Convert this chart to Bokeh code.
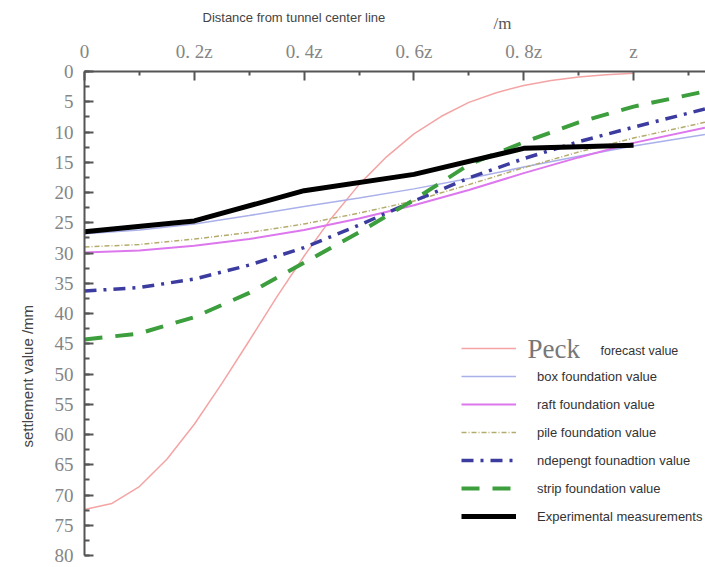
import math
from bokeh.plotting import figure
from bokeh.models import (Range1d, FixedTicker, SingleIntervalTicker, Legend,
                          LegendItem, Label, Title)
from bokeh.embed import file_html
from bokeh.resources import INLINE

# ---------------- data (distance in units of z, settlement in mm) ----------------
x_ticks = [0, 0.2, 0.4, 0.6, 0.8, 1.0]
x_tick_labels = ["0", "0. 2z", "0. 4z", "0. 6z", "0. 8z", "z"]
x_minor_ticks = [0.1, 0.3, 0.5, 0.7, 0.9, 1.1]

peck_dist = [0, 0.05, 0.1, 0.15, 0.2, 0.25, 0.3, 0.35, 0.4, 0.45, 0.5,
             0.55, 0.6, 0.65, 0.7, 0.75, 0.8, 0.85, 0.9, 0.95, 1.0]
peck_forecast = [72.4, 71.4, 68.6, 64.1, 58.3, 51.6, 44.5, 37.3, 30.5, 24.2, 18.7,
                 14.1, 10.3, 7.4, 5.1, 3.5, 2.3, 1.5, 0.9, 0.55, 0.3]

model_dist = [0, 0.1, 0.2, 0.3, 0.4, 0.5, 0.6, 0.7, 0.8, 0.9, 1.0, 1.13]
box_found = [26.8, 26.2, 25.2, 23.8, 22.3, 20.9, 19.4, 17.7, 15.8, 14.0, 12.3, 10.4]
raft_found = [29.9, 29.6, 28.8, 27.7, 26.2, 24.3, 22.1, 19.6, 16.8, 14.2, 11.8, 9.3]
pile_found = [29.0, 28.6, 27.7, 26.6, 25.2, 23.4, 21.4, 18.7, 15.9, 13.3, 11.0, 8.4]
indep_found = [36.3, 35.7, 34.3, 32.0, 29.1, 25.4, 21.4, 17.6, 14.4, 11.6, 9.2, 6.2]
strip_found = [44.3, 43.3, 40.6, 36.6, 31.6, 26.6, 21.2, 15.4, 11.7, 8.4, 5.8, 3.3]

exp_dist = [0, 0.2, 0.4, 0.6, 0.8, 1.0]
exp_measured = [26.5, 24.7, 19.7, 17.0, 12.7, 12.2]

legend_labels = ["", "box foundation value", "raft foundation value",
                 "pile foundation value", "ndepengt founadtion value",
                 "strip foundation value", "Experimental measurements"]

# ---------------- figure ----------------
p = figure(width=705, height=567, output_backend="svg", toolbar_location=None,
           x_range=Range1d(0, 1.131), y_range=Range1d(80, 0),
           x_axis_location="above", title=None,
           min_border_left=84, min_border_top=71, min_border_right=0,
           min_border_bottom=12)
p.outline_line_color = None
p.grid.visible = False
p.background_fill_color = "white"

xa = p.xaxis[0]
xa.ticker = FixedTicker(ticks=x_ticks, minor_ticks=x_minor_ticks)
xa.major_label_overrides = dict(zip(x_ticks, x_tick_labels))
ya = p.yaxis[0]
ya.ticker = SingleIntervalTicker(interval=5, num_minor_ticks=2)

for ax in (xa, ya):
    ax.axis_line_color = "#555555"
    ax.axis_line_width = 2
    ax.major_tick_line_color = "#555555"
    ax.major_tick_line_width = 2
    ax.minor_tick_line_color = "#555555"
    ax.minor_tick_line_width = 2
    ax.major_tick_out = 0
    ax.minor_tick_out = 0
    ax.major_label_text_font = "Liberation Serif"
    ax.major_label_text_font_size = "19px"
    ax.major_label_text_color = "#858585"
xa.major_tick_in = 9
xa.minor_tick_in = 4
xa.major_label_standoff = 10
ya.major_tick_in = 9
ya.minor_tick_in = 5
ya.major_label_standoff = 11

r_peck = p.line(peck_dist, peck_forecast, line_color="#f4a4a4", line_width=1.5)
r_box = p.line(model_dist, box_found, line_color="#aab0ea", line_width=1.5)
r_raft = p.line(model_dist, raft_found, line_color="#dd77ee", line_width=2)
r_pile = p.line(model_dist, pile_found, line_color="#b4ac6c", line_width=1.5,
                line_dash="5 2 1 2")
r_indep = p.line(model_dist, indep_found, line_color="#3c3ca0", line_width=3.5,
                 line_dash="12 7 3 7")
r_strip = p.line(model_dist, strip_found, line_color="#3c9e3c", line_width=4,
                 line_dash="18 13")
r_exp = p.line(exp_dist, exp_measured, line_color="black", line_width=5,
               line_join="round")

renderers = [r_peck, r_box, r_raft, r_pile, r_indep, r_strip, r_exp]
items = [LegendItem(label=lab, renderers=[r]) for lab, r in zip(legend_labels, renderers)]
legend = Legend(items=items, location=(377, 29), orientation="vertical",
                glyph_width=55, glyph_height=20, label_height=20, spacing=8,
                padding=0, margin=0, label_standoff=21,
                border_line_color=None, background_fill_alpha=0,
                label_text_font="Liberation Sans", label_text_font_size="13px",
                label_text_color="#333333")
p.add_layout(legend)

p.add_layout(Label(x=443, y=207, x_units="screen", y_units="screen", text="Peck",
                   text_font="Liberation Serif", text_font_size="27px",
                   text_color="#777777", text_baseline="middle"))
p.add_layout(Label(x=516, y=205, x_units="screen", y_units="screen", text="forecast value",
                   text_font="Liberation Sans", text_font_size="12.5px",
                   text_color="#333333", text_baseline="middle"))

# titles outside the frame
p.add_layout(Title(text="/m", align="left", offset=409, standoff=10,
                   text_font="Liberation Serif", text_font_size="17px",
                   text_font_style="normal", text_color="#555555"), "above")
p.add_layout(Title(text="Distance from tunnel center line", align="left", offset=118,
                   standoff=-37, text_font="Liberation Sans", text_font_size="13px",
                   text_font_style="normal", text_color="#444444"), "above")
p.add_layout(Title(text="settlement value  /mm", align="left", offset=108, standoff=31,
                   text_font="Liberation Sans", text_font_size="15px",
                   text_font_style="normal", text_color="#444444"), "left")

open("out.html", "w").write(file_html(p, INLINE))
